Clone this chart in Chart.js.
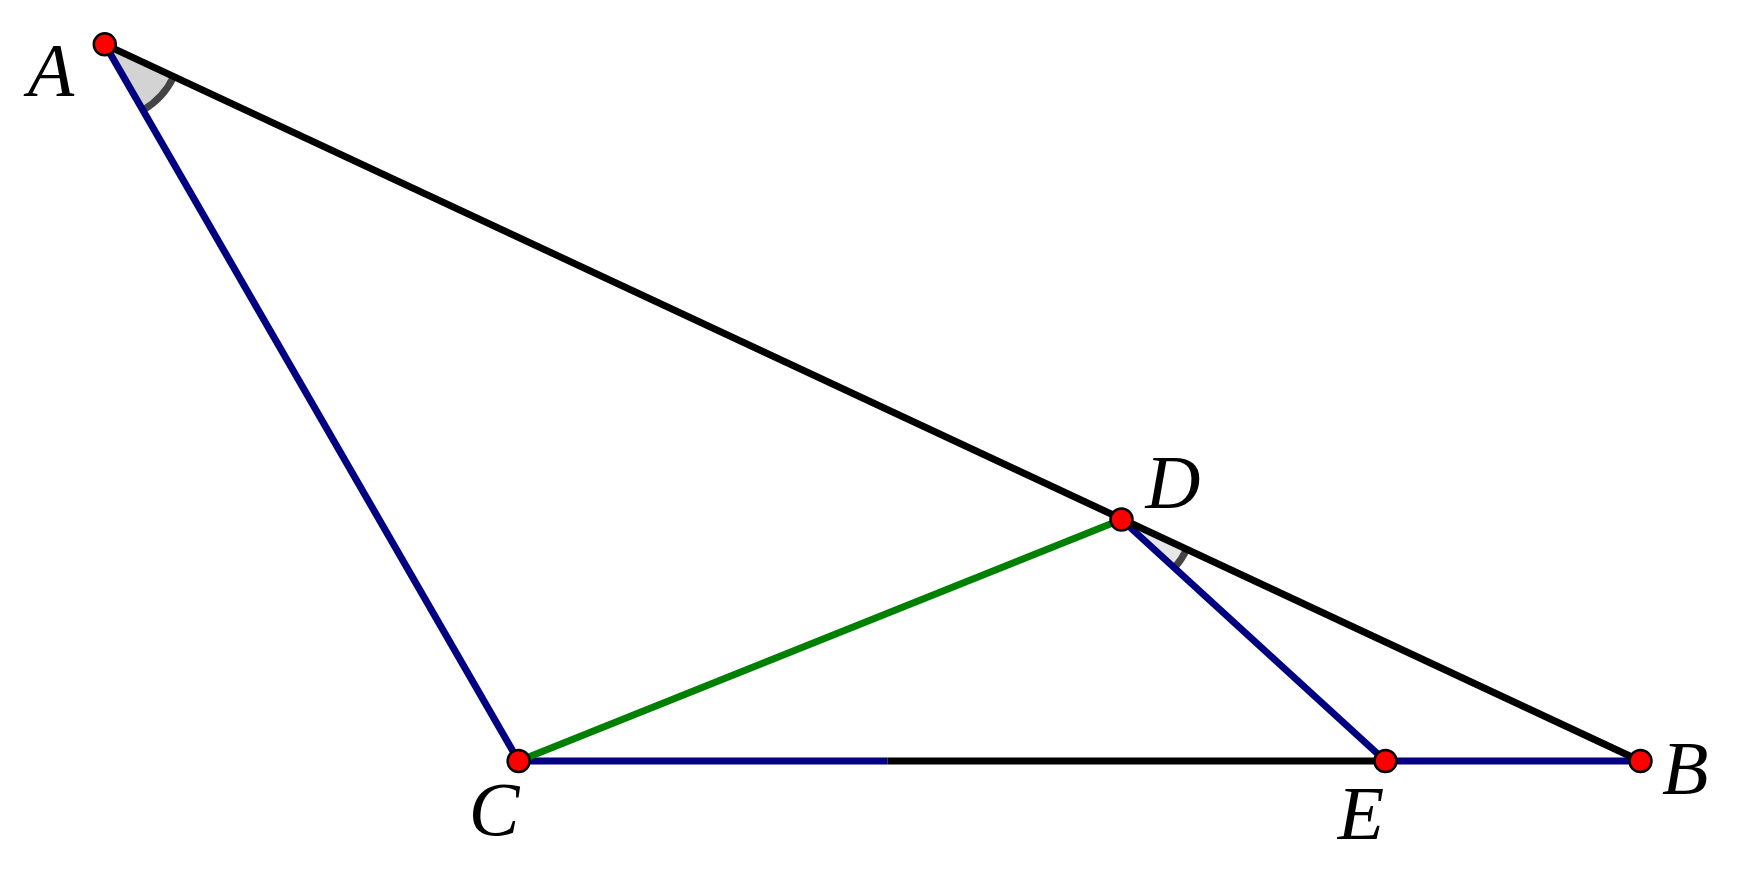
<!DOCTYPE html>
<html><head><meta charset="utf-8">
<script src="https://cdn.jsdelivr.net/npm/chart.js@4/dist/chart.umd.min.js"></script>
<style>html,body{margin:0;padding:0;background:#fff;overflow:hidden}</style>
</head><body>
<canvas id="c" width="1754" height="889"></canvas>
<script>
// point names and coordinates (figure units)
const pointNames = ["A","B","C","D","E"];
const pointX = [93, 1466, 463, 1002, 1238];
const pointY = [38, 679, 679, 463, 679];
const labelDX = [-48, 40, -22, 46, -22];
const labelDY = [28, 12, 48, -28, 52];
// segments: [from, to, colour]
const segFrom = ["A","A","C","D","C","K","E"];
const segTo   = ["B","C","D","E","K","E","B"];
const segColor= ["#000000","#000080","#008000","#000080","#000080","#000000","#000080"];
// helper point K on CE where colour changes
const extraNames=["K"]; const extraX=[793]; const extraY=[679];

const P={};
pointNames.forEach((n,i)=>P[n]={x:pointX[i],y:pointY[i]});
extraNames.forEach((n,i)=>P[n]={x:extraX[i],y:extraY[i]});

const datasets=[{data:pointNames.map(n=>P[n]), showLine:false, pointRadius:11,
  pointBackgroundColor:'#ff0000', pointBorderColor:'#000', pointBorderWidth:2.5}];
segFrom.forEach((f,i)=>datasets.push({
  data:[P[f],P[segTo[i]]], showLine:true, borderColor:segColor[i], borderWidth:7,
  pointRadius:0, fill:false, borderCapStyle:'butt'
}));

const angles=[{v:"A",a:"B",b:"C",r:68,fill:true},{v:"D",a:"B",b:"E",r:64,fill:false}];

const deco={id:'deco',
 beforeDatasetsDraw(ch){const x=ch.scales.x,y=ch.scales.y,ctx=ch.ctx;
  angles.forEach(g=>{const V=P[g.v],cx=x.getPixelForValue(V.x),cy=y.getPixelForValue(V.y);
   const a1=Math.atan2(y.getPixelForValue(P[g.a].y)-cy,x.getPixelForValue(P[g.a].x)-cx);
   const a2=Math.atan2(y.getPixelForValue(P[g.b].y)-cy,x.getPixelForValue(P[g.b].x)-cx);
   const r=x.getPixelForValue(g.r)-x.getPixelForValue(0);
   ctx.save();ctx.beginPath();ctx.moveTo(cx,cy);ctx.arc(cx,cy,r,a1,a2,false);ctx.closePath();
   ctx.fillStyle=g.fill?'#d3d3d3':'#e6e6e6';ctx.fill();
   ctx.beginPath();ctx.arc(cx,cy,r,a1,a2,false);ctx.lineWidth=7;ctx.strokeStyle='#444';ctx.stroke();ctx.restore();});
 },
 afterDatasetsDraw(ch){const x=ch.scales.x,y=ch.scales.y,ctx=ch.ctx;
  ctx.save();ctx.font='italic 76px "Liberation Serif", "DejaVu Serif", serif';ctx.fillStyle='#000';
  ctx.textAlign='center';ctx.textBaseline='middle';
  pointNames.forEach((n,i)=>ctx.fillText(n,x.getPixelForValue(pointX[i]+labelDX[i]),y.getPixelForValue(pointY[i]+labelDY[i])));
  ctx.restore();}
};

new Chart(document.getElementById('c'),{type:'scatter',data:{datasets},
 options:{responsive:false,animation:false,maintainAspectRatio:false,
  layout:{padding:0},
  plugins:{legend:{display:false},tooltip:{enabled:false}},
  scales:{x:{type:'linear',min:11.4,max:1555.4,display:false},y:{type:'linear',min:10.4,max:781.4,reverse:true,display:false}}},
 plugins:[deco]});
</script>
</body></html>
